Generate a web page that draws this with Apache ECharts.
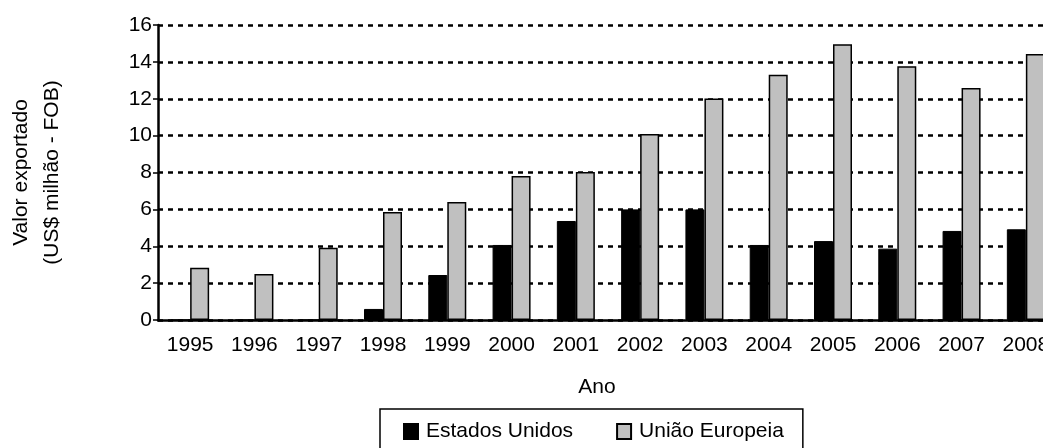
<!DOCTYPE html>
<html>

<head>
    <meta charset="utf-8" />
    <title>Valor exportado</title>
    <script src="https://cdn.jsdelivr.net/npm/echarts@6/dist/echarts.min.js"></script>
    <style>
        html, body { margin: 0; padding: 0; background: #fff; }
        #main { width: 1043px; height: 448px; }
    </style>
</head>

<body>
    <div id="main"></div>
    <script type="text/javascript">
        var anos = ['1995', '1996', '1997', '1998', '1999', '2000', '2001', '2002', '2003', '2004', '2005', '2006', '2007', '2008'];
        var estadosUnidos = [0, 0, 0, 0.6, 2.44, 4.07, 5.37, 6.0, 6.0, 4.07, 4.28, 3.87, 4.83, 4.92];
        var uniaoEuropeia = [2.84, 2.49, 3.92, 5.86, 6.4, 7.81, 8.03, 10.09, 12.02, 13.3, 14.95, 13.76, 12.58, 14.43];
        var yTicks = { min: 0, max: 16, interval: 2 };

        var font = '"Liberation Sans", Arial, sans-serif';
        var myChart = echarts.init(document.getElementById('main'));

        myChart.setOption({
            animation: false,
            textStyle: { fontFamily: font, color: '#000' },
            // plot runs past the right edge in the original, so no bounds clamping
            grid: { left: 158, top: 25, width: 900, height: 295, outerBoundsMode: 'none', containLabel: false },
            legend: {
                left: 380,
                top: 409,
                padding: [12, 19, 14, 23],
                itemGap: 43,
                itemWidth: 14,
                itemHeight: 15,
                icon: 'rect',
                borderColor: '#000',
                borderWidth: 1.5,
                textStyle: { fontFamily: font, fontSize: 21, color: '#000', padding: [0, 0, 0, 3] },
                data: ['Estados Unidos', 'União Europeia']
            },
            xAxis: {
                type: 'category',
                data: anos,
                name: 'Ano',
                nameLocation: 'middle',
                nameGap: 57,
                nameTextStyle: { fontFamily: font, fontSize: 21, color: '#000', padding: [0, 22, 0, 0] },
                axisLine: { lineStyle: { color: '#000', width: 2.5 } },
                axisTick: { length: 5, lineStyle: { color: '#000', width: 1.5 } },
                axisLabel: { margin: 15, fontFamily: font, fontSize: 21, color: '#000', hideOverlap: false }
            },
            yAxis: {
                type: 'value',
                min: yTicks.min,
                max: yTicks.max,
                interval: yTicks.interval,
                name: 'Valor exportado\n(US$ milhão - FOB)',
                nameLocation: 'middle',
                nameRotate: 90,
                nameGap: 90,
                nameTextStyle: { fontFamily: font, fontSize: 21, color: '#000', lineHeight: 31 },
                axisLine: { show: true, lineStyle: { color: '#000', width: 2.5 } },
                axisTick: { show: true, length: 5, lineStyle: { color: '#000', width: 1.5 } },
                axisLabel: { margin: 6, fontFamily: font, fontSize: 21, color: '#000' },
                splitLine: { lineStyle: { color: '#000', width: 2.5, type: [5, 5] } }
            },
            series: [
                {
                    name: 'Estados Unidos',
                    type: 'bar',
                    data: estadosUnidos,
                    barWidth: 19,
                    barGap: '0%',
                    itemStyle: { color: '#000', borderColor: '#000', borderWidth: 1 }
                },
                {
                    name: 'União Europeia',
                    type: 'bar',
                    data: uniaoEuropeia,
                    barWidth: 19,
                    itemStyle: { color: '#c0c0c0', borderColor: '#000', borderWidth: 1.5 }
                }
            ]
        });
    </script>
</body>

</html>
